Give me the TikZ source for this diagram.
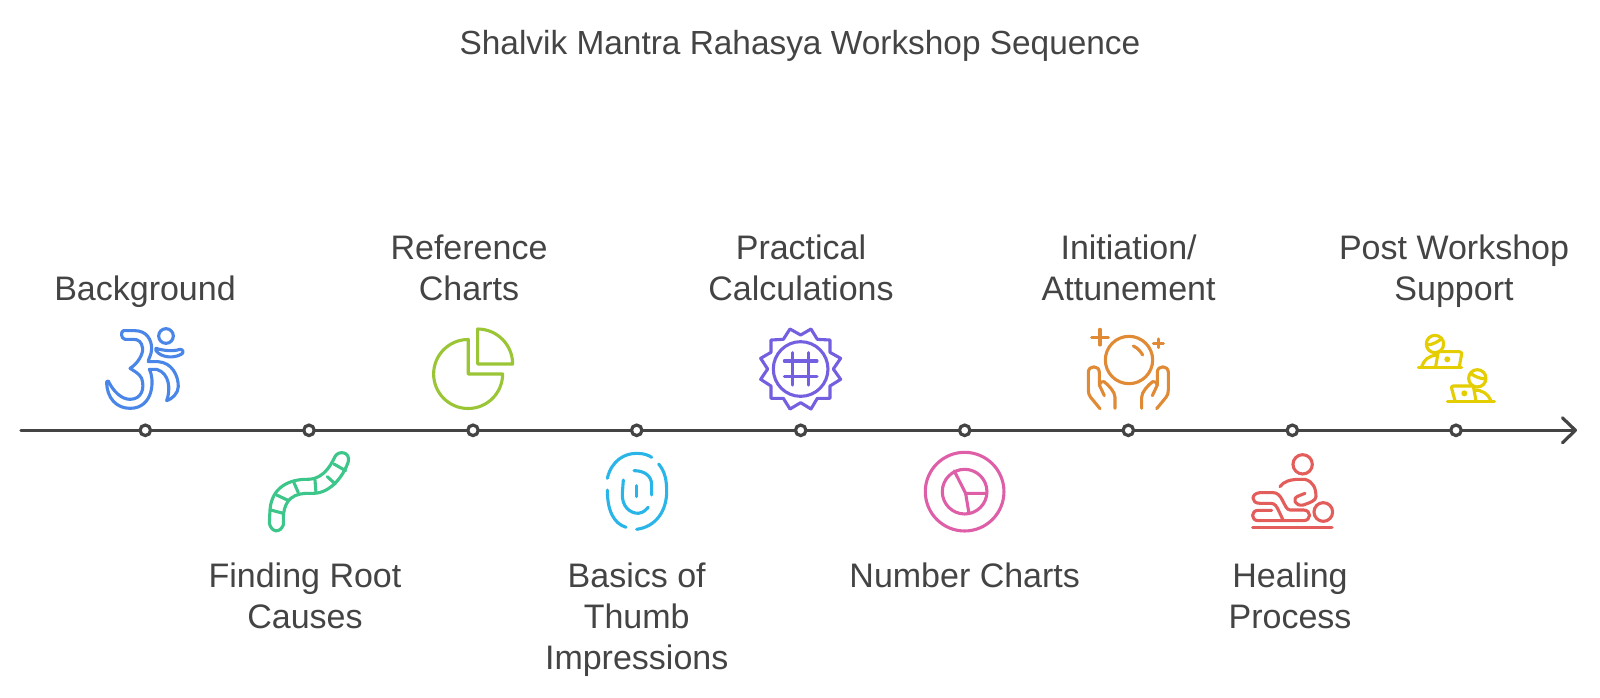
\documentclass[tikz,border=0pt]{standalone}
\usepackage{fontspec}
\setmainfont{Liberation Sans}
\usetikzlibrary{arrows.meta}
\definecolor{ink}{HTML}{444444}
\definecolor{cblue}{HTML}{4A86E8}
\definecolor{cgreen}{HTML}{3CC68A}
\definecolor{clime}{HTML}{9AC535}
\definecolor{ccyan}{HTML}{29B5E8}
\definecolor{cpurple}{HTML}{7360E0}
\definecolor{cpink}{HTML}{DE5FA8}
\definecolor{corange}{HTML}{E08A35}
\definecolor{cred}{HTML}{E35D5B}
\definecolor{cyellow}{HTML}{E4CD00}
\tikzset{
  lbl/.style={text=ink,font=\fontsize{34}{41}\selectfont,align=center,inner sep=0pt},
  ttl/.style={text=ink,font=\fontsize{33.4}{41}\selectfont,inner sep=0pt},
  dotmark/.style={circle,draw=ink,fill=white,line width=3.2pt,minimum size=10.5pt,inner sep=0pt},
  axisline/.style={draw=ink,line width=3.2pt,line cap=round,-{Straight Barb[length=13pt,width=25pt,line width=3.2pt,round]}},
  ico/.style={line width=3.1pt,line cap=round,line join=round},
  zoomA/.style={shift={(80,310)},x=0.3333pt,y=-0.3333pt},
  zoomB/.style={shift={(570,310)},x=0.3333pt,y=-0.3333pt},
  zoomC/.style={shift={(1060,310)},x=0.3333pt,y=-0.3333pt}
}
\begin{document}
\begin{tikzpicture}[x=1pt,y=-1pt]
\useasboundingbox (0,0) rectangle (1600,697);
\fill[white] (0,0) rectangle (1600,697);
\node[ttl] (title) at (800,46) {Shalvik Mantra Rahasya Workshop Sequence};
\coordinate (axstart) at (21,430.3);
\coordinate (axend) at (1577,430.3);
\draw[axisline] (axstart) -- (axend);
\foreach \n/\x in {1/145.3,2/309,3/473,4/636.7,5/800.7,6/964.7,7/1128.3,8/1292.3,9/1456}
  \node[dotmark] (d\n) at (\x,430.3) {};
\node[lbl] (l1) at (145,292) {Background};
\node[lbl] (l2) at (305,595.5) {Finding Root\\Causes};
\node[lbl] (l3) at (469,268) {Reference\\Charts};
\node[lbl] (l4) at (636.7,620) {Basics of\\Thumb\\Impressions};
\node[lbl] (l5) at (801,268) {Practical\\Calculations};
\node[lbl] (l6) at (964.7,575.5) {Number Charts};
\node[lbl] (l7) at (1128.6,268) {Initiation/\\Attunement};
\node[lbl] (l8) at (1290,595.5) {Healing\\Process};
\node[lbl] (l9) at (1454,271.5) {Post Workshop\\Support};
% Om
\begin{scope}[zoomA,ico,draw=cblue]
\draw (130,62) -- (165,62) .. controls (200,62) and (215,90) .. (215,115) .. controls (215,135) and (205,145) .. (205,155) -- (235,155) .. controls (275,158) and (295,195) .. (295,230) .. controls (295,250) and (275,268) .. (260,272) .. controls (272,240) and (270,190) .. (230,178) -- (208,178) .. controls (225,210) and (220,295) .. (150,295) .. controls (110,295) and (80,265) .. (80,215) -- (85,213) .. controls (100,245) and (125,268) .. (150,268) .. controls (185,268) and (195,235) .. (185,205) .. controls (178,190) and (160,182) .. (150,175) .. controls (175,160) and (190,130) .. (188,115) .. controls (185,95) and (175,88) .. (160,88) -- (135,88) .. controls (122,85) and (122,65) .. (130,62) -- cycle;
\draw (258,78) circle[radius=22];
\draw (228,115) .. controls (250,122) and (280,125) .. (300,118) .. controls (310,118) and (312,128) .. (305,132) .. controls (285,145) and (245,145) .. (228,122) -- cycle;
\end{scope}
% worm
\begin{scope}[zoomA,ico,draw=cgreen]
\draw (568,640) -- (570,600) .. controls (575,530) and (630,508) .. (680,508) .. controls (700,508) and (735,505) .. (765,440) .. controls (775,420) and (812,425) .. (805,455) .. controls (790,500) and (750,550) .. (700,550) .. controls (670,550) and (615,545) .. (610,620) -- (610,645) .. controls (600,670) and (575,668) .. (568,640) -- cycle;
\draw (762,462) -- (797,482);
\draw (742,500) -- (766,522);
\draw (705,510) -- (708,548);
\draw (642,518) -- (655,548);
\draw (590,555) -- (622,570);
\draw (572,600) -- (610,610);
\end{scope}
% pie
\begin{scope}[zoomA,ico,draw=clime]
\draw (1165,88) -- (1165,192) -- (1268,192) arc[start angle=0,end angle=270,radius=103.5] -- cycle;
\draw (1193,57) -- (1193,162) -- (1298,162) arc[start angle=0,end angle=-90,radius=105] -- cycle;
\end{scope}
% fingerprint
\begin{scope}[zoomB,ico,draw=ccyan]
\draw (112,505) .. controls (125,450) and (165,430) .. (200,430) .. controls (220,430) and (235,435) .. (245,442);
\draw (266,462) .. controls (285,485) and (290,510) .. (290,545) .. controls (290,600) and (260,650) .. (200,658);
\draw (168,652) .. controls (130,640) and (112,600) .. (112,540);
\draw (245,555) -- (245,525) .. controls (245,495) and (220,482) .. (192,482);
\draw (160,510) -- (157,550) .. controls (155,590) and (180,610) .. (205,610) .. controls (220,608) and (228,600) .. (235,592);
\draw (200,527) -- (200,560);
\end{scope}
% badge
\begin{scope}[zoomB,ico,draw=cpurple]
\draw (660,57) -- (692,75) -- (723,57) -- (742,88) -- (780,90) -- (780,127) -- (812,145) -- (790,177) -- (812,208) -- (780,228) -- (780,265) -- (742,265) -- (723,297) -- (692,278) -- (660,297) -- (640,265) -- (603,265) -- (603,228) -- (572,208) -- (593,177) -- (572,145) -- (603,127) -- (603,90) -- (640,88) -- cycle;
\draw (692,177) circle[radius=82];
\draw (668,128) -- (668,225);
\draw (716,128) -- (716,225);
\draw (643,153) -- (741,153);
\draw (643,200) -- (741,200);
\end{scope}
% pink
\begin{scope}[zoomB,ico,draw=cpink]
\draw (1184,545) circle[radius=118];
\draw (1184,545) circle[radius=67];
\draw (1153,483) -- (1187,550) -- (1250,550);
\draw (1187,550) -- (1197,610);
\end{scope}
% orange
\begin{scope}[zoomC,ico,draw=corange]
\draw (207,150) circle[radius=71];
\draw (220,108) .. controls (235,115) and (242,125) .. (248,135);
\draw (120,58) -- (120,105);
\draw (95,82) -- (145,82);
\draw (295,87) -- (295,113);
\draw (280,100) -- (310,100);
\draw (120,296) -- (92,262) .. controls (87,255) and (85,250) .. (85,240) -- (85,187) .. controls (85,165) and (118,165) .. (118,187) -- (118,225) -- (133,257);
\draw (165,295) -- (165,262) .. controls (165,245) and (145,225) .. (132,215) .. controls (125,212) and (120,218) .. (118,225);
\draw (290,296) -- (318,262) .. controls (323,255) and (325,250) .. (325,240) -- (325,187) .. controls (325,165) and (292,165) .. (292,187) -- (292,225) -- (277,257);
\draw (245,295) -- (245,262) .. controls (245,245) and (265,225) .. (278,215) .. controls (285,212) and (290,218) .. (292,225);
\end{scope}
% red
\begin{scope}[zoomC,ico,draw=cred]
\draw (728,463) circle[radius=29];
\draw (660,530) .. controls (670,515) and (690,508) .. (720,508) -- (735,508) .. controls (760,515) and (768,535) .. (768,560) .. controls (768,572) and (750,578) .. (730,585) .. controls (705,590) and (695,565) .. (715,558) -- (735,550);
\draw (635,601) -- (595,601) .. controls (572,601) and (572,632) .. (595,632) -- (730,632) .. controls (755,632) and (755,600) .. (730,600) -- (690,600) .. controls (680,600) and (675,585) .. (668,572) .. controls (660,555) and (650,548) .. (640,548) -- (600,548) .. controls (572,550) and (572,580) .. (600,580) -- (632,580) .. controls (645,580) and (650,590) .. (655,600) -- (670,632);
\draw (790,606) circle[radius=28];
\draw (578,653) -- (816,653);
\end{scope}
% yellow
\begin{scope}[zoomC,ico,draw=cyellow]
\draw (1125,102) circle[radius=26];
\draw (1103,105) .. controls (1120,103) and (1135,95) .. (1145,85);
\draw (1085,170) .. controls (1092,150) and (1105,137) .. (1132,135);
\draw (1127,170) -- (1135,125) -- (1198,125) .. controls (1205,125) and (1205,130) .. (1205,132) -- (1198,170);
\draw (1075,172) -- (1205,172);
\fill[cyellow] (1162,148) circle[radius=9];
\draw (1252,205) circle[radius=26];
\draw (1232,190) .. controls (1245,200) and (1258,205) .. (1275,207);
\draw (1185,272) -- (1175,235) .. controls (1174,230) and (1176,228) .. (1180,228) -- (1240,228) -- (1248,272);
\draw (1243,240) .. controls (1265,240) and (1283,250) .. (1292,270);
\draw (1162,274) -- (1303,274);
\fill[cyellow] (1213,250) circle[radius=9];
\end{scope}
\end{tikzpicture}
\end{document}
